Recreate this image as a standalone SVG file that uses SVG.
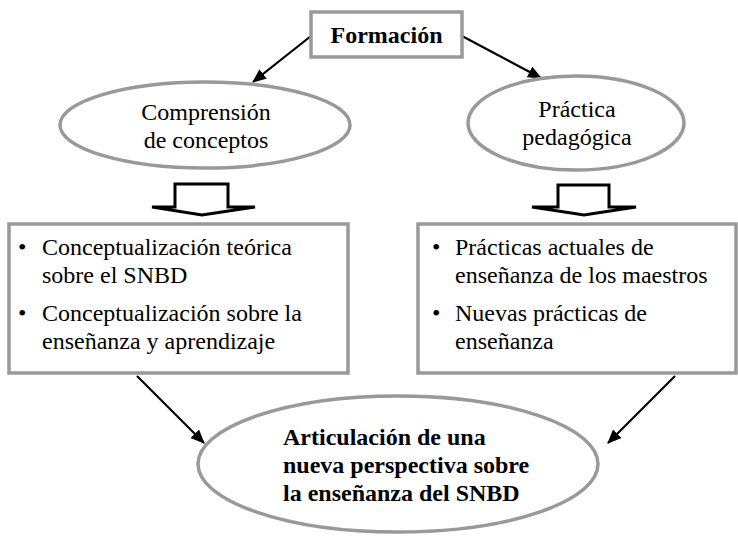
<svg xmlns="http://www.w3.org/2000/svg" width="738" height="536" viewBox="0 0 738 536" font-family="Liberation Serif, serif">
<style>
.box{fill:#fff;stroke:#999;stroke-width:3.5}
.ell{fill:#fff;stroke:#999;stroke-width:3.5}
.t{font-family:'Liberation Serif',serif;font-size:24px;fill:#000}
.b{font-weight:bold}
.blk{fill:#fff;stroke:#000;stroke-width:3;stroke-linejoin:miter}
.ln{stroke:#000;stroke-width:2.2;fill:none;marker-end:url(#ah)}
</style>
<defs>
<marker id="ah" markerWidth="14" markerHeight="12" refX="13" refY="6" orient="auto" markerUnits="userSpaceOnUse">
<path d="M0,0 L14,6 L0,12 Z" fill="#000"/>
</marker>
</defs>
<rect width="738" height="536" fill="#fff"/>
<g id="connectors">
<line class="ln" x1="311" y1="36" x2="253" y2="82"/>
<line class="ln" x1="462" y1="36" x2="541" y2="78"/>
<polygon class="blk" points="175,184 228,184 228,207 255,207 202,215 152,207 175,207"/>
<polygon class="blk" points="558,185 609,185 609,207 636,207 584,215 532,207 558,207"/>
<line class="ln" x1="137" y1="376" x2="204" y2="443"/>
<line class="ln" x1="675" y1="376" x2="608" y2="443"/>
</g>
<g id="formacion">
<rect class="box" x="311" y="12" width="151" height="45"/>
<text class="t b" x="386.5" y="43" text-anchor="middle">Formación</text>
</g>
<g id="comprension">
<ellipse class="ell" cx="205" cy="125" rx="145" ry="43"/>
<text class="t" x="206" y="120" text-anchor="middle">Comprensión</text>
<text class="t" x="206" y="148" text-anchor="middle">de conceptos</text>
</g>
<g id="practica">
<ellipse class="ell" cx="576" cy="123" rx="108" ry="47"/>
<text class="t" x="577" y="117" text-anchor="middle">Práctica</text>
<text class="t" x="577" y="145" text-anchor="middle">pedagógica</text>
</g>
<g id="caja-izq">
<rect class="box" x="9" y="224" width="339" height="149"/>
<text class="t" x="18" y="255">•</text>
<text class="t" x="42" y="255">Conceptualización teórica</text>
<text class="t" x="42" y="283">sobre el SNBD</text>
<text class="t" x="18" y="321">•</text>
<text class="t" x="42" y="321">Conceptualización sobre la</text>
<text class="t" x="42" y="349">enseñanza y aprendizaje</text>
</g>
<g id="caja-der">
<rect class="box" x="418" y="224" width="318" height="149"/>
<text class="t" x="432" y="255">•</text>
<text class="t" x="455" y="255">Prácticas actuales de</text>
<text class="t" x="455" y="283">enseñanza de los maestros</text>
<text class="t" x="432" y="321">•</text>
<text class="t" x="455" y="321">Nuevas prácticas de</text>
<text class="t" x="455" y="349">enseñanza</text>
</g>
<g id="articulacion">
<ellipse class="ell" cx="398" cy="464" rx="200" ry="68"/>
<text class="t b" x="283" y="445">Articulación de una</text>
<text class="t b" x="283" y="473">nueva perspectiva sobre</text>
<text class="t b" x="283" y="501">la enseñanza del SNBD</text>
</g>
</svg>
